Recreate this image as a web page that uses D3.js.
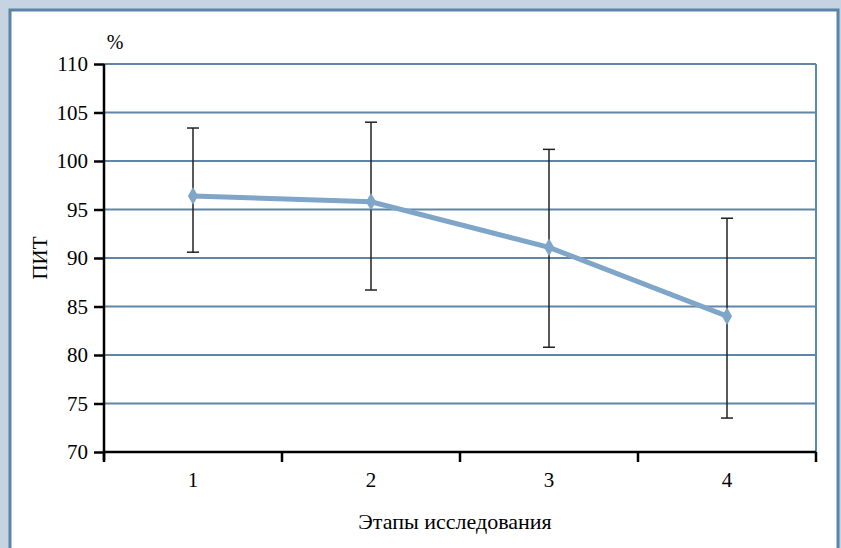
<!DOCTYPE html>
<html>
<head>
<meta charset="utf-8">
<script src="https://cdn.jsdelivr.net/npm/d3@7"></script>
<style>
  body { margin: 0; background: #c5d3e3; }
  svg { display: block; font-family: "Liberation Serif", "DejaVu Serif", serif; }
</style>
</head>
<body>
<svg id="chart" width="841" height="548"></svg>
<script>
const stages = ["1", "2", "3", "4"];
const means = [96.4, 95.8, 91.1, 84.0];
const upper = [103.4, 104.0, 101.2, 94.1];
const lower = [90.6, 86.7, 80.8, 73.5];
const yTicks = [70, 75, 80, 85, 90, 95, 100, 105, 110];

const svg = d3.select("#chart");

// white panel with blue frame
svg.append("rect")
  .attr("x", 10).attr("y", 10)
  .attr("width", 828).attr("height", 560)
  .attr("fill", "#fff")
  .attr("stroke", "#5b84a6")
  .attr("stroke-width", 3);

const m = { left: 104, right: 816, top: 64, bottom: 452 };

const x = d3.scaleBand().domain(stages).range([m.left, m.right]);
const y = d3.scaleLinear().domain([70, 110]).range([m.bottom, m.top]);

const g = svg.append("g");

// gridlines
g.selectAll(".grid")
  .data(yTicks.slice(1))
  .enter()
  .append("line")
  .attr("x1", m.left).attr("x2", m.right)
  .attr("y1", (d) => y(d)).attr("y2", (d) => y(d))
  .attr("stroke", "#5f86a8")
  .attr("stroke-width", 2);

// right border of plot area
g.append("line")
  .attr("x1", m.right).attr("x2", m.right)
  .attr("y1", m.top).attr("y2", m.bottom)
  .attr("stroke", "#5f86a8")
  .attr("stroke-width", 2);

// y axis
const yAxis = g.append("g")
  .attr("transform", `translate(${m.left},0)`)
  .call(d3.axisLeft(y).tickValues(yTicks).tickSize(10).tickPadding(6));
yAxis.select(".domain").attr("stroke", "#000").attr("stroke-width", 2.5)
  .attr("d", `M0,${m.top}V${m.bottom + 8}`);
yAxis.selectAll(".tick line").attr("stroke", "#000").attr("stroke-width", 2.5);
yAxis.selectAll("text").attr("font-size", 21).attr("fill", "#000")
  .style("font-family", "Liberation Serif, serif");

// x axis
const xAxis = g.append("g")
  .attr("transform", `translate(0,${m.bottom})`)
  .call(d3.axisBottom(x).tickSize(0).tickPadding(20));
xAxis.select(".domain").attr("stroke", "#000").attr("stroke-width", 2.5)
  .attr("d", `M${m.left},0H${m.right}`);
xAxis.selectAll("text").attr("font-size", 21).attr("fill", "#000")
  .style("font-family", "Liberation Serif, serif");

// x boundary ticks
const edges = stages.map((s) => x(s)).concat([m.right]);
g.selectAll(".xtick")
  .data(edges)
  .enter()
  .append("line")
  .attr("x1", (d) => d).attr("x2", (d) => d)
  .attr("y1", m.bottom).attr("y2", m.bottom + 10)
  .attr("stroke", "#000")
  .attr("stroke-width", 2.5);

const cx = (i) => x(stages[i]) + x.bandwidth() / 2;

// error bars
const eb = g.selectAll(".err")
  .data(stages)
  .enter()
  .append("g");
eb.append("line")
  .attr("x1", (d, i) => cx(i)).attr("x2", (d, i) => cx(i))
  .attr("y1", (d, i) => y(upper[i])).attr("y2", (d, i) => y(lower[i]))
  .attr("stroke", "#222").attr("stroke-width", 1.5);
eb.append("line")
  .attr("x1", (d, i) => cx(i) - 6).attr("x2", (d, i) => cx(i) + 6)
  .attr("y1", (d, i) => y(upper[i])).attr("y2", (d, i) => y(upper[i]))
  .attr("stroke", "#222").attr("stroke-width", 1.5);
eb.append("line")
  .attr("x1", (d, i) => cx(i) - 6).attr("x2", (d, i) => cx(i) + 6)
  .attr("y1", (d, i) => y(lower[i])).attr("y2", (d, i) => y(lower[i]))
  .attr("stroke", "#222").attr("stroke-width", 1.5);

// line
const line = d3.line().x((d, i) => cx(i)).y((d) => y(d));
g.append("path")
  .datum(means)
  .attr("d", line)
  .attr("fill", "none")
  .attr("stroke", "#7fa6c9")
  .attr("stroke-width", 5);

g.selectAll(".pt")
  .data(means)
  .enter()
  .append("path")
  .attr("d", d3.symbol().type(d3.symbolDiamond).size(90))
  .attr("transform", (d, i) => `translate(${cx(i)},${y(d)})`)
  .attr("fill", "#7fa6c9");

// labels
svg.append("text")
  .attr("x", 115).attr("y", 49)
  .attr("text-anchor", "middle")
  .attr("font-size", 20)
  .text("%");

svg.append("text")
  .attr("transform", "translate(47,258) rotate(-90)")
  .attr("text-anchor", "middle")
  .attr("font-size", 21)
  .text("ПИТ");

svg.append("text")
  .attr("x", 455).attr("y", 529)
  .attr("text-anchor", "middle")
  .attr("font-size", 22)
  .text("Этапы исследования");
</script>
</body>
</html>
